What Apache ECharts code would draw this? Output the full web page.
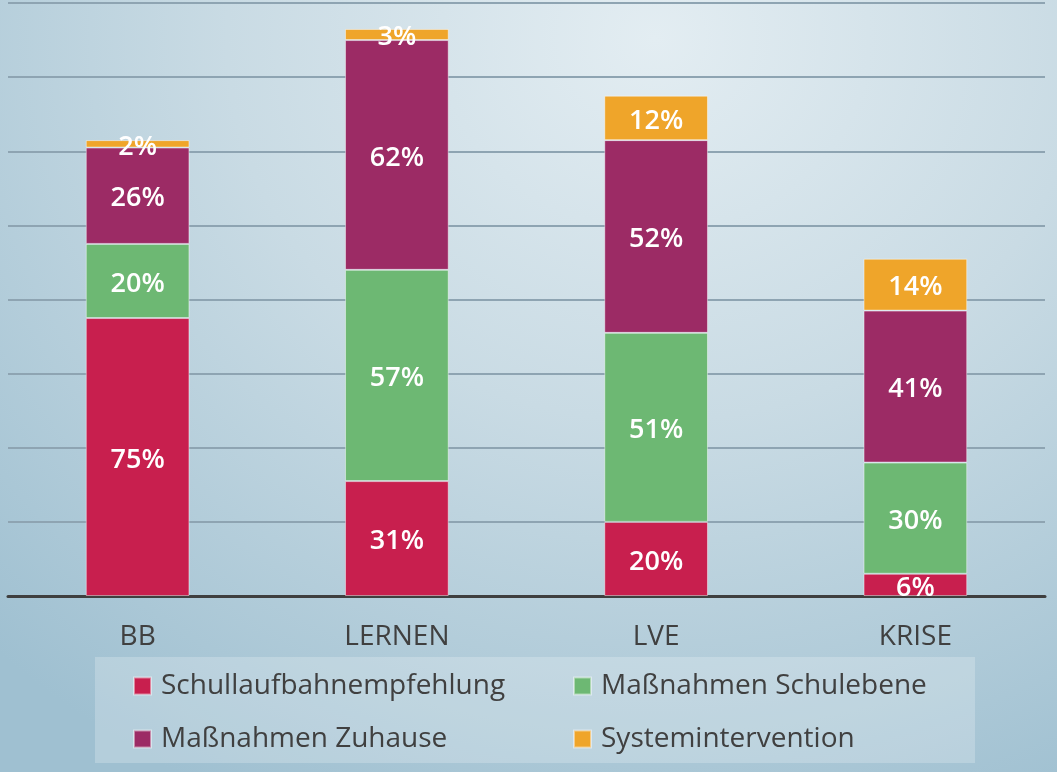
<!DOCTYPE html>
<html>
<head>
<meta charset="utf-8">
<script src="https://cdn.jsdelivr.net/npm/echarts@6/dist/echarts.min.js"></script>
<style>
html,body{margin:0;padding:0;width:1057px;height:772px;overflow:hidden;}
body{background:radial-gradient(ellipse 90% 110% at 62% 5%, #e3edf2 0%, #c9dbe4 45%, #9fc0d1 100%);}
#c{width:1057px;height:772px;}
</style>
</head>
<body>
<div id="c"></div>
<script>
var categories = ['BB', 'LERNEN', 'LVE', 'KRISE'];
var seriesNames = ['Schullaufbahnempfehlung', 'Maßnahmen Schulebene', 'Maßnahmen Zuhause', 'Systemintervention'];
var schullaufbahn = [75, 31, 20, 6];
var schulebene = [20, 57, 51, 30];
var zuhause = [26, 62, 52, 41];
var system = [2, 3, 12, 14];
var colors = ['#c81f4e', '#6db873', '#9c2b65', '#efa52a'];

var values = [schullaufbahn, schulebene, zuhause, system];
var chart = echarts.init(document.getElementById('c'));
var font = '"Open Sans", Lato, sans-serif';
var series = values.map(function (v, i) {
  return {
    name: seriesNames[i],
    type: 'bar',
    stack: 'total',
    data: v,
    barWidth: '40%',
    itemStyle: { color: colors[i], borderColor: 'rgba(255,255,255,0.45)', borderWidth: 1 },
    label: {
      show: true,
      position: 'inside',
      offset: [0, 3],
      formatter: '{c}%',
      color: '#ffffff',
      fontFamily: font,
      fontWeight: 600,
      fontSize: 27
    }
  };
});
var legendText = { color: '#404040', fontSize: 28, lineHeight: 28, fontFamily: font, padding: [0, 0, 0, 5] };
chart.setOption({
  animation: false,
  backgroundColor: 'transparent',
  grid: { left: 8, right: 12, top: 3, bottom: 176, containLabel: false },
  graphic: [{
    type: 'rect',
    shape: { x: 95, y: 657, width: 880, height: 106 },
    style: { fill: 'rgba(255,255,255,0.22)' },
    z: -1
  }],
  legend: [{
    data: [seriesNames[0], seriesNames[2]],
    orient: 'vertical',
    left: 128, top: 667,
    itemWidth: 17, itemHeight: 17, itemGap: 25,
    icon: 'rect',
    textStyle: legendText
  }, {
    data: [seriesNames[1], seriesNames[3]],
    orient: 'vertical',
    left: 568, top: 667,
    itemWidth: 17, itemHeight: 17, itemGap: 25,
    icon: 'rect',
    textStyle: legendText
  }],
  xAxis: {
    type: 'category',
    data: categories,
    axisLine: { lineStyle: { color: '#3f3f3f', width: 3 } },
    axisTick: { show: false },
    axisLabel: { color: '#404040', fontSize: 28, fontFamily: font, margin: 27 }
  },
  yAxis: {
    type: 'value',
    min: 0, max: 160, interval: 20,
    axisLabel: { show: false },
    axisLine: { show: false },
    axisTick: { show: false },
    splitLine: { lineStyle: { color: '#8ea4b2', width: 2 } }
  },
  series: series
});
</script>
</body>
</html>
